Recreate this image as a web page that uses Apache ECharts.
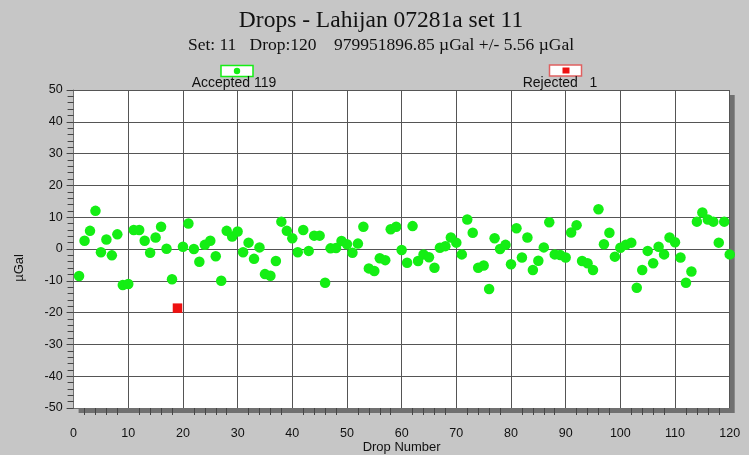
<!DOCTYPE html>
<html>
<head>
<meta charset="utf-8">
<script src="https://cdn.jsdelivr.net/npm/echarts@6/dist/echarts.min.js"></script>
<style>
html,body{margin:0;padding:0;background:#c6c6c6;}
#chart{width:749px;height:455px;}
</style>
</head>
<body>
<div id="chart"></div>
<script>
// Drop-by-drop residuals (µGal); index 0 = drop 1. null = rejected drop.
const acceptedValues = [
  -8.5, 2.6, 5.7, 12, -1, 3, -2, 4.6, -11.3, -11,
  6, 6, 2.6, -1.2, 3.6, 7, 0.1, -9.5, null, 0.7,
  8, 0, -4, 1.3, 2.6, -2.3, -10, 5.7, 3.9, 5.5,
  -1, 2, -3.1, 0.5, -7.9, -8.4, -3.8, 8.6, 5.7, 3.4,
  -1, 6, -0.6, 4.2, 4.2, -10.6, 0.2, 0.3, 2.5, 1.5,
  -1.2, 1.7, 7, -6.1, -6.9, -2.9, -3.5, 6.2, 7, -0.3,
  -4.3, 7.2, -3.8, -1.7, -2.6, -5.9, 0.4, 0.9, 3.6, 2,
  -1.7, 9.3, 5.1, -5.9, -5.2, -12.6, 3.4, 0, 1.3, -4.8,
  6.5, -2.7, 3.6, -6.6, -3.7, 0.5, 8.4, -1.7, -1.9, -2.7,
  5.2, 7.5, -3.8, -4.5, -6.6, 12.5, 1.5, 5.1, -2.4, 0.4,
  1.3, 2, -12.2, -6.6, -0.6, -4.5, 0.7, -1.7, 3.6, 2.1,
  -2.7, -10.6, -7.1, 8.6, 11.5, 9.3, 8.6, 2, 8.6, -1.7
];
const rejectedDrops = [19];
const rejectedValues = [-18.6];

const titleText = 'Drops - Lahijan 07281a set 11';
const subtitleText = 'Set: 11   Drop:120    979951896.85 µGal +/- 5.56 µGal';
const xTicks = [0, 120, 10];   // min, max, interval
const yTicks = [-50, 50, 10];

const acceptedData = [];
acceptedValues.forEach((v, i) => { if (v !== null) acceptedData.push([i + 1, v]); });
const rejectedData = rejectedDrops.map((d, i) => [d, rejectedValues[i]]);

const GREEN = '#14ee14';
const RED = '#ee1111';
const font = 'Liberation Sans, Arial, sans-serif';
const serif = 'Liberation Serif, Times New Roman, serif';

const chart = echarts.init(document.getElementById('chart'), null, {renderer: 'canvas'});
chart.setOption({
  backgroundColor: '#c6c6c6',
  animation: false,
  title: {
    text: titleText,
    subtext: subtitleText,
    left: 376,
    textAlign: 'center',
    top: 4,
    itemGap: 3,
    textStyle: {fontFamily: serif, fontSize: 23.5, fontWeight: 'normal', color: '#111'},
    subtextStyle: {fontFamily: serif, fontSize: 17.5, color: '#111'}
  },
  grid: {
    left: 73.6, right: 19.3, top: 90, bottom: 47,
    outerBoundsMode: 'none', containLabel: false,
    show: true, backgroundColor: '#ffffff', borderWidth: 0,
    shadowColor: '#707070', shadowOffsetX: 5, shadowOffsetY: 5, shadowBlur: 0
  },
  xAxis: {
    type: 'value', min: xTicks[0], max: xTicks[1], interval: xTicks[2],
    name: 'Drop Number', nameLocation: 'middle', nameGap: 33, nameMoveOverlap: false,
    nameTextStyle: {fontFamily: font, fontSize: 13, color: '#111'},
    axisLine: {show: true, onZero: false, lineStyle: {color: '#707070', width: 1}},
    axisTick: {show: false},
    minorTick: {show: true, splitNumber: 5, length: 7, lineStyle: {color: '#444'}},
    axisLabel: {fontFamily: font, fontSize: 12.5, color: '#111', margin: 19},
    splitLine: {show: true, lineStyle: {color: '#555', width: 1}}
  },
  yAxis: {
    type: 'value', min: yTicks[0], max: yTicks[1], interval: yTicks[2],
    name: 'µGal', nameLocation: 'middle', nameGap: 48, nameRotate: 90, nameMoveOverlap: false,
    nameTextStyle: {fontFamily: font, fontSize: 13, color: '#111', padding: [0, 38, 0, 0]},
    axisLine: {show: true, onZero: false, lineStyle: {color: '#707070', width: 1}},
    axisTick: {show: true, inside: false, length: 7, lineStyle: {color: '#444'}},
    minorTick: {show: true, splitNumber: 5, length: 6, lineStyle: {color: '#444'}},
    axisLabel: {fontFamily: font, fontSize: 12.5, color: '#111', margin: 11},
    splitLine: {show: true, lineStyle: {color: '#555', width: 1}}
  },
  series: [
    {
      name: 'Accepted', type: 'scatter', data: acceptedData,
      symbol: 'circle', symbolSize: 10.5,
      itemStyle: {color: GREEN, opacity: 1}, z: 3
    },
    {
      name: 'Rejected', type: 'scatter', data: rejectedData,
      symbol: 'rect', symbolSize: 9.5,
      itemStyle: {color: RED, opacity: 1}, z: 3
    }
  ],
  graphic: [
    {type: 'rect', shape: {x: 221, y: 65.5, width: 32, height: 11}, style: {fill: '#fff', stroke: GREEN, lineWidth: 1.5}},
    {type: 'circle', shape: {cx: 237, cy: 71, r: 3.2}, style: {fill: GREEN}},
    {type: 'text', style: {x: 234, y: 83, text: 'Accepted ' + acceptedData.length, align: 'center', verticalAlign: 'middle', font: '14px Liberation Sans, Arial, sans-serif', fill: '#111'}},
    {type: 'rect', shape: {x: 549.5, y: 65, width: 32, height: 11}, style: {fill: '#fff', stroke: '#e06060', lineWidth: 1.5}},
    {type: 'rect', shape: {x: 562.5, y: 67.5, width: 7, height: 6}, style: {fill: RED}},
    {type: 'text', style: {x: 560, y: 83, text: 'Rejected   ' + rejectedData.length, align: 'center', verticalAlign: 'middle', font: '14px Liberation Sans, Arial, sans-serif', fill: '#111'}}
  ]
});
</script>
</body>
</html>
